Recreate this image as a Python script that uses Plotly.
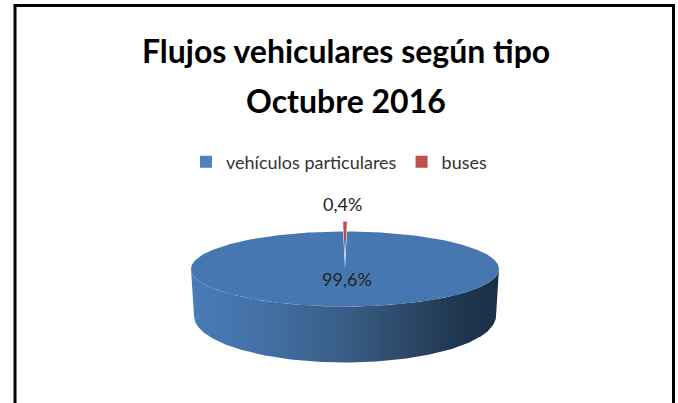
import numpy as np
import plotly.graph_objects as go

categories = ["vehículos particulares", "buses"]
values = [99.6, 0.4]
labels = ["99,6%", "0,4%"]
colors = ["#4f81bd", "#c0504d"]
title_lines = ["Flujos vehiculares según tipo", "Octubre 2016"]

W, H = 678, 403
CX, CY, RX, RY, LIFT = 345, 269, 154, 37.5, 10
BOT_CY, BOT_RX, BOT_RY = 316, 151, 46.5
FONT = "Lato"

total = sum(values)
red_half = np.pi * values[1] / total
back = np.pi / 2


def ellipse(theta, cy=CY, rx=RX, ry=RY):
    return CX + rx * np.cos(theta), cy - ry * np.sin(theta)


fig = go.Figure()

t = np.linspace(np.pi, 2 * np.pi, 181)
xb, yb = ellipse(t, BOT_CY, BOT_RX, BOT_RY)
xt, yt = ellipse(t[::-1])
fig.add_trace(go.Scatter(
    x=np.r_[xb, xt], y=np.r_[yb, yt], mode="lines", line=dict(width=0),
    fill="toself", showlegend=False, hoverinfo="skip",
    fillgradient=dict(type="horizontal", colorscale=[
        [0, "#4a7cb8"], [0.25, "#426fa4"], [0.55, "#37597f"], [0.85, "#213852"], [1, "#1b2e46"]]),
))

t = np.linspace(back + red_half, back + 2 * np.pi - red_half, 361)
xs, ys = ellipse(t)
fig.add_trace(go.Scatter(
    x=np.r_[CX, xs, CX], y=np.r_[CY, ys, CY], mode="lines", line=dict(width=0),
    fill="toself", fillcolor="#4677b0", showlegend=False, hoverinfo="skip",
))

t = np.linspace(back - red_half, back + red_half, 5)
xs, ys = ellipse(t, CY - LIFT)
fig.add_trace(go.Scatter(
    x=np.r_[CX, xs, CX], y=np.r_[CY - LIFT, ys, CY - LIFT], mode="lines", line=dict(width=0),
    fill="toself", showlegend=False, hoverinfo="skip",
    fillgradient=dict(type="vertical", colorscale=[
        [0, "#7f9fc6"], [0.4, "#5f6f8f"], [0.6, "#b04a50"], [1, "#c0504d"]]),
))

for name, color in zip(categories, colors):
    fig.add_trace(go.Scatter(
        x=[None], y=[None], mode="markers", name=name,
        marker=dict(symbol="square", size=10, color=color),
    ))

fig.update_layout(
    width=W, height=H, margin=dict(l=0, r=0, t=0, b=0),
    paper_bgcolor="white", plot_bgcolor="white",
    xaxis=dict(range=[0, W], visible=False, fixedrange=True),
    yaxis=dict(range=[H, 0], visible=False, fixedrange=True),
    showlegend=True,
    legend=dict(
        orientation="h", x=0.5, xanchor="center", y=1 - 162 / H, yanchor="middle",
        font=dict(family=FONT, size=18, color="#333333"), bgcolor="rgba(0,0,0,0)",
        itemsizing="constant",
    ),
    shapes=[dict(type="rect", xref="paper", yref="paper", x0=15 / W, x1=673.5 / W, y0=-0.05, y1=1 - 5.5 / H,
                 line=dict(color="black", width=3), fillcolor="rgba(0,0,0,0)", layer="below")],
    annotations=[
        dict(x=345.5 / W, xref="paper", y=1 - 50 / H, yref="paper", text=f"<b>{title_lines[0]}</b>", showarrow=False,
             font=dict(family=FONT, size=32, color="black"), xanchor="center", yanchor="middle"),
        dict(x=345.5 / W, xref="paper", y=1 - 100 / H, yref="paper", text=f"<b>{title_lines[1]}</b>", showarrow=False,
             font=dict(family=FONT, size=32, color="black"), xanchor="center", yanchor="middle"),
        dict(x=CX + 2, y=CY + 10, text=labels[0], showarrow=False, font=dict(family=FONT, size=18, color="#222222")),
        dict(x=CX - 3, y=CY - LIFT - RY - 18, text=labels[1], showarrow=False, font=dict(family=FONT, size=18, color="#222222")),
    ],
)

fig.write_html("out.html", post_script="document.body.style.margin='0';",
               config=dict(displayModeBar=False))
